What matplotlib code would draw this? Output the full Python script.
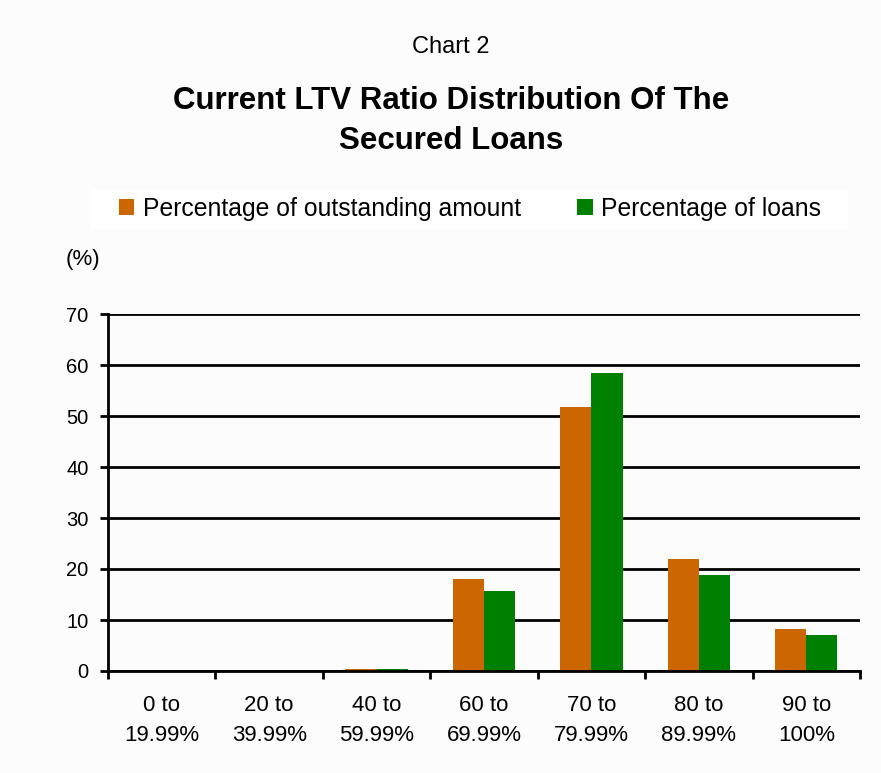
import matplotlib
matplotlib.use("Agg")
import matplotlib.pyplot as plt
from matplotlib.patches import Rectangle
import numpy as np

categories = ["0 to\n19.99%", "20 to\n39.99%", "40 to\n59.99%", "60 to\n69.99%",
              "70 to\n79.99%", "80 to\n89.99%", "90 to\n100%"]
outstanding = [0, 0, 0.4, 18.0, 51.8, 22.0, 8.2]
loans = [0, 0, 0.4, 15.7, 58.4, 18.8, 7.1]
yticks = [0, 10, 20, 30, 40, 50, 60, 70]

plt.rcParams['font.family'] = ['Liberation Sans', 'DejaVu Sans']

W, H = 881, 773
fig = plt.figure(figsize=(W/100, H/100), dpi=100, facecolor="#FCFCFC")
ax = fig.add_axes([108/W, 1-671/H, (860-108)/W, (671-314)/H])
ax.set_facecolor("#FCFCFC")

x = np.arange(len(categories))
bw = 0.29
ax.bar(x - bw/2, outstanding, bw, color="#CC6600", label="Percentage of outstanding amount", zorder=3)
ax.bar(x + bw/2, loans, bw, color="#008000", label="Percentage of loans", zorder=3)

ax.set_xlim(-0.5, len(categories) - 0.5)
ax.set_ylim(0, 70)
ax.set_yticks(yticks)
ax.yaxis.grid(True, color="black", linewidth=2, zorder=1)
ax.set_axisbelow(True)
for s in ["top", "right"]:
    ax.spines[s].set_visible(False)
for s in ["left", "bottom"]:
    ax.spines[s].set_linewidth(2)
    ax.spines[s].set_zorder(4)
ax.set_xticks(np.arange(len(categories) + 1) - 0.5, minor=True)
ax.set_xticks(x)
ax.set_xticklabels(categories, fontsize=16, linespacing=1.6)
ax.tick_params(axis="x", which="major", length=0, pad=17)
ax.tick_params(axis="x", which="minor", length=6, width=2, direction="out")
ax.tick_params(axis="y", length=6, width=2, labelsize=14.5, pad=8)

fig.text(451/W, 1-47/H, "Chart 2", ha="center", va="center", fontsize=17)
fig.text(451/W, 1-101/H, "Current LTV Ratio Distribution Of The", ha="center",
         va="center", fontsize=22.5, fontweight="bold")
fig.text(451/W, 1-141/H, "Secured Loans", ha="center",
         va="center", fontsize=22.5, fontweight="bold")
fig.text(83/W, 1-260/H, "(%)", ha="center", va="center", fontsize=16)

fig.patches.append(Rectangle((90/W, 1-229/H), (848-90)/W, (229-189)/H,
                             transform=fig.transFigure, facecolor="white",
                             edgecolor="none", zorder=0))
handles, labels = ax.get_legend_handles_labels()
leg = fig.legend(handles, labels, loc="center", bbox_to_anchor=(470/W, 1-209/H), ncol=2,
                 fontsize=17.8, frameon=False, handlelength=0.62, handleheight=0.62,
                 handletextpad=0.35, columnspacing=2.3, borderpad=0.2)

fig.savefig("out.png", dpi=100, facecolor=fig.get_facecolor())
